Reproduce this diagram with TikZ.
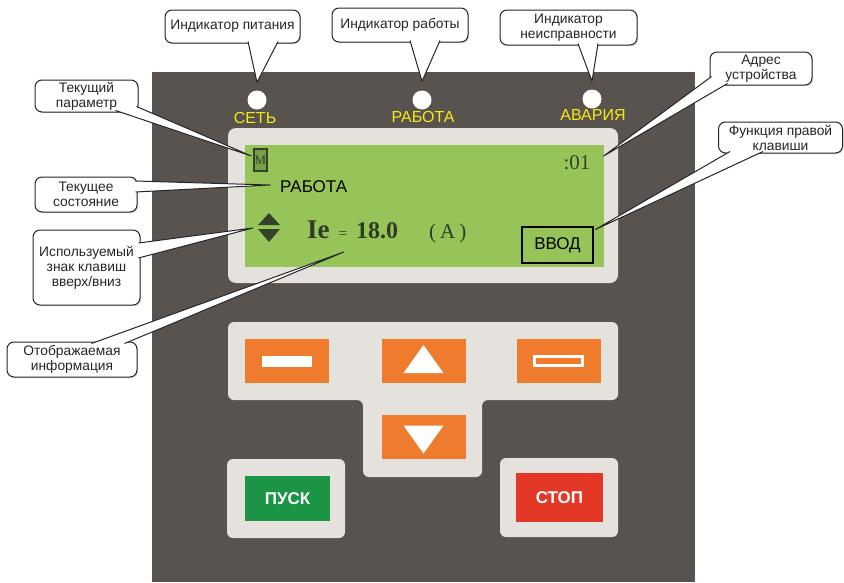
\documentclass[tikz,border=0pt]{standalone}
\usepackage{fontspec}
\setmainfont{Liberation Sans}
\newfontfamily\lcdserif{Liberation Serif}
\usetikzlibrary{calc, shadows}
\definecolor{panelgray}{RGB}{88,83,78}
\definecolor{bezel}{RGB}{229,226,221}
\definecolor{lcdgreen}{RGB}{150,196,88}
\definecolor{lcdink}{RGB}{52,66,42}
\definecolor{keyorange}{RGB}{238,124,44}
\definecolor{startgreen}{RGB}{28,148,70}
\definecolor{stopred}{RGB}{228,56,38}
\definecolor{ledyellow}{RGB}{245,234,20}
% white wedge of a callout: base point, tip, base point
\newcommand{\callptr}[3]{%
  \fill[white] (#1) -- (#2) -- (#3) -- cycle;
  \draw[ptr] (#1) -- (#2) -- (#3);}

\begin{document}
\begin{tikzpicture}[
    x=1pt, y=-1pt,
    callout/.style={draw=black!85, line width=1pt, fill=white, rounded corners=7pt,
                    align=center, inner sep=1pt, text=black!85,
                    font=\fontsize{13.8}{15}\selectfont,
                    drop shadow={opacity=0.3, shadow xshift=1.2pt, shadow yshift=-1.2pt}},
    ptr/.style={draw=black!85, line width=1pt, line join=round},
    led/.style={circle, fill=white, minimum size=19pt, inner sep=0pt},
    ledlabel/.style={text=ledyellow, inner sep=0pt, font=\fontsize{16}{16}\selectfont},
    lcdtext/.style={inner sep=0pt, text=black, font=\fontsize{17}{17}\selectfont},
    key/.style={fill=#1, minimum width=84pt, minimum height=44pt, inner sep=0pt},
    padbox/.style={fill=bezel, rounded corners=6pt},
]
    \useasboundingbox (0,0) rectangle (844,582);

    % housing, display bezel and keypad plates
    \fill[panelgray] (152,72) rectangle (695,582);
    \fill[padbox, rounded corners=8pt] (228,128) rectangle (618,283);
    \fill[lcdgreen] (245,145) rectangle (604,267);
    \fill[padbox] (228,322) -- (618,322) -- (618,400) -- (482,400) -- (482,477)
        -- (363,477) -- (363,400) -- (228,400) -- cycle;
    \fill[padbox] (227,459) rectangle (345,538);
    \fill[padbox] (500,458) rectangle (618,537);

    % indicators
    \node[led] (ledPower) at (257,100) {};
    \node[led] (ledRun) at (422,100) {};
    \node[led] (ledFault) at (592,99) {};
    \node[ledlabel] (lblPower) at (255,118) {СЕТЬ};
    \node[ledlabel] (lblRun) at (423,117) {РАБОТА};
    \node[ledlabel] (lblFault) at (593,115) {АВАРИЯ};

    % display contents
    \node[draw=lcdink, line width=1.3pt, fill=lcdgreen!80!black, text=lcdink,
          minimum width=13pt, minimum height=22pt, inner sep=0pt,
          font=\lcdserif\fontsize{13}{13}\selectfont] (mIcon) at (260.5,160) {M};
    \node[inner sep=0pt, text=lcdink, font=\lcdserif\fontsize{21}{21}\selectfont]
        (addrText) at (577,163) {:01};
    \node[lcdtext, anchor=west] (stateText) at (280,187) {РАБОТА};
    \node[minimum width=22pt, minimum height=29pt, inner sep=0pt] (updn) at (269,228) {};
    \fill[lcdink] ($(updn.center)+(-11,-3)$) -- ($(updn.center)+(11,-3)$) -- ($(updn.center)+(0,-15)$) -- cycle;
    \fill[lcdink] ($(updn.center)+(-11,1)$) -- ($(updn.center)+(11,1)$) -- ($(updn.center)+(0,14)$) -- cycle;
    \node[inner sep=0pt, anchor=base west, text=lcdink!90!black, font=\lcdserif] (reading) at (307,238)
        {\textbf{\fontsize{27}{27}\selectfont Ie}\hspace{9pt}{\fontsize{15}{15}\selectfont =}\hspace{9pt}\textbf{\fontsize{24}{24}\selectfont 18.0}\hspace{31pt}{\fontsize{21}{21}\selectfont(\hspace{4pt}A\hspace{4pt})}};
    \node[lcdtext, draw=black, line width=1.2pt, minimum width=71pt, minimum height=36pt]
        (enterKey) at (557.5,245) {ВВОД};

    % keypad
    \node[key=keyorange] (btnLeft) at (287,361) {};
    \node[key=keyorange] (btnUp) at (423.5,361) {};
    \node[key=keyorange] (btnRight) at (558.5,361) {};
    \node[key=keyorange] (btnDown) at (423.5,436.5) {};
    \fill[white] ($(btnLeft.center)+(-25,-5.5)$) rectangle ($(btnLeft.center)+(25,5.5)$);
    \draw[white, line width=2.5pt] ($(btnRight.center)+(-24,-4.5)$) rectangle ($(btnRight.center)+(24,4.5)$);
    \fill[white] ($(btnUp.center)+(-20,12)$) -- ($(btnUp.center)+(20,12)$) -- ($(btnUp.center)+(0,-16)$) -- cycle;
    \fill[white] ($(btnDown.center)+(-20,-11)$) -- ($(btnDown.center)+(20,-11)$) -- ($(btnDown.center)+(0,17)$) -- cycle;
    \node[key=startgreen, minimum width=85pt, minimum height=45pt, text=white,
          font=\bfseries\fontsize{17}{17}\selectfont] (btnStart) at (287.5,498.5) {ПУСК};
    \node[key=stopred, minimum width=87pt, minimum height=49pt, text=white,
          font=\bfseries\fontsize{17}{17}\selectfont] (btnStop) at (559.5,497.5) {СТОП};

    % callouts
    \node[callout, minimum width=135pt, minimum height=33pt] (cPower) at (232.5,26.5) {Индикатор питания};
    \node[callout, minimum width=136pt, minimum height=34pt] (cRun) at (400,25) {Индикатор работы};
    \node[callout, minimum width=137pt, minimum height=35pt] (cFault) at (568.5,27.5) {Индикатор\\неисправности};
    \node[callout, minimum width=102pt, minimum height=33pt] (cAddr) at (761,68.5) {Адрес\\устройства};
    \node[callout, minimum width=124pt, minimum height=31pt] (cKey) at (780.5,137.5) {Функция правой\\клавиши};
    \node[callout, minimum width=103pt, minimum height=32pt] (cParam) at (86.5,96) {Текущий\\параметр};
    \node[callout, minimum width=102pt, minimum height=35pt] (cState) at (86,194.5) {Текущее\\состояние};
    \node[callout, minimum width=107pt, minimum height=75pt] (cKeys) at (86.5,267.5) {Используемый\\знак клавиш\\вверх/вниз};
    \node[callout, minimum width=130pt, minimum height=35pt] (cInfo) at (72,359.5) {Отображаемая\\информация};

    \callptr{$(cPower.south)+(15.5,-2)$}{$(ledPower.north)+(0,-8)$}{$(cPower.south)+(45.5,-2)$}
    \callptr{$(cRun.south)+(10,-2)$}{$(ledRun.north)+(0,-9)$}{$(cRun.south)+(40,-2)$}
    \callptr{$(cFault.south)+(9.5,-2)$}{$(ledFault.north)+(0,-8)$}{$(cFault.south)+(29.5,-2)$}
    \callptr{$(cAddr.south west)+(2,-9)$}{$(addrText.east)+(13,-7)$}{$(cAddr.south west)+(18,-2)$}
    \callptr{$(cKey.south west)+(12,-2)$}{$(enterKey.north east)+(2,3)$}{$(cKey.south west)+(45,-2)$}
    \callptr{$(cParam.south east)+(-23,-2)$}{$(mIcon.west)+(-2,-4)$}{$(cParam.south east)+(-2,-6)$}
    \callptr{$(cState.east)+(-2,-13.5)$}{$(stateText.west)+(-10,-2)$}{$(cState.east)+(-2,-2.5)$}
    \callptr{$(cKeys.east)+(-2,-24.5)$}{$(updn.west)+(-5,0)$}{$(cKeys.east)+(-2,-9.5)$}
    \callptr{$(cInfo.north west)+(85,2)$}{$(reading.base)+(-43,14)$}{$(cInfo.north west)+(118,2)$}
\end{tikzpicture}
\end{document}
